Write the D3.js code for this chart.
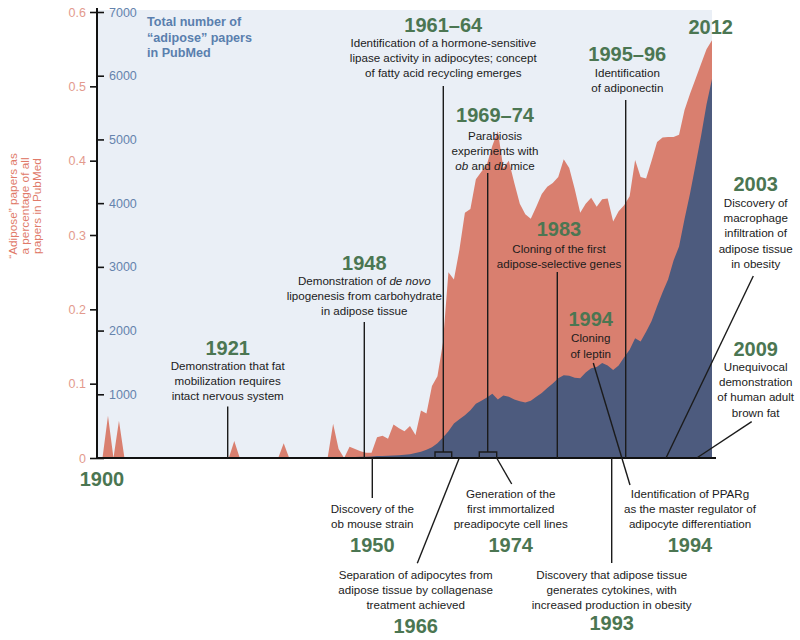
<!DOCTYPE html>
<html><head><meta charset="utf-8">
<script src="https://cdn.jsdelivr.net/npm/d3@7"></script>
<style>
body{margin:0;background:#fff}
svg{display:block}
text{font-family:"Liberation Sans",Arial,Helvetica,sans-serif}
</style>
</head><body>
<svg id="chart" width="800" height="640"></svg>
<script>
// ---------------- DATA ----------------
const years = [
1900,1901,1902,1903,1904,1905,1906,1907,1908,1909,
1910,1911,1912,1913,1914,1915,1916,1917,1918,1919,
1920,1921,1922,1923,1924,1925,1926,1927,1928,1929,
1930,1931,1932,1933,1934,1935,1936,1937,1938,1939,
1940,1941,1942,1943,1944,1945,1946,1947,1948,1949,
1950,1951,1952,1953,1954,1955,1956,1957,1958,1959,
1960,1961,1962,1963,1964,1965,1966,1967,1968,1969,
1970,1971,1972,1973,1974,1975,1976,1977,1978,1979,
1980,1981,1982,1983,1984,1985,1986,1987,1988,1989,
1990,1991,1992,1993,1994,1995,1996,1997,1998,1999,
2000,2001,2002,2003,2004,2005,2006,2007,2008,2009,
2010,2011,2012];

// "Adipose" papers as a percentage of all PubMed papers
const percentValues = [
0,0,0.057,0,0.05,0,0,0,0,0,
0,0,0,0,0,0,0,0,0,0,
0,0,0,0,0,0.023,0,0,0,0,
0,0,0,0,0.02,0,0,0,0,0,
0,0,0,0.046,0.012,0,0.015,0.012,0.009,0.007,
0.007,0.028,0.03,0.026,0.045,0.04,0.036,0.043,0.031,0.064,
0.06,0.097,0.11,0.155,0.25,0.24,0.28,0.33,0.335,0.375,
0.385,0.395,0.42,0.44,0.39,0.40,0.37,0.342,0.328,0.322,
0.338,0.355,0.365,0.37,0.378,0.402,0.39,0.362,0.33,0.342,
0.35,0.338,0.348,0.349,0.318,0.332,0.34,0.352,0.401,0.378,
0.376,0.40,0.425,0.431,0.432,0.432,0.435,0.468,0.49,0.51,
0.53,0.55,0.562];

// Total number of "adipose" papers in PubMed
const countValues = [
0,0,0,0,0,0,0,0,0,0,
0,0,0,0,0,0,0,0,0,0,
0,0,0,0,0,0,0,0,0,0,
0,0,0,0,0,0,0,0,0,0,
0,0,0,0,0,5,10,15,20,20,
25,30,30,35,40,45,50,60,80,100,
130,170,230,320,420,540,610,670,750,850,
900,950,1010,920,980,960,920,890,870,900,
960,1020,1100,1170,1250,1300,1290,1260,1250,1340,
1410,1430,1490,1450,1380,1450,1580,1700,1880,1830,
1980,2150,2380,2600,2800,3100,3320,3750,4150,4600,
5050,5550,5950];

const percentTicks = [0, 0.1, 0.2, 0.3, 0.4, 0.5, 0.6];
const percentTickLabels = ["0", "0.1", "0.2", "0.3", "0.4", "0.5", "0.6"];
const countTicks = [0, 1000, 2000, 3000, 4000, 5000, 6000, 7000];
const countTickLabels = ["", "1000", "2000", "3000", "4000", "5000", "6000", "7000"];

const percentAxisTitle = ["\u201CAdipose\u201D papers as", "a percentage of all", "papers in PubMed"];
const countTitle = ["Total number of", "\u201Cadipose\u201D papers", "in PubMed"];

// events: label + description lines (*...* = italic)
const eventLabels = ["1900","1921","1948","1961\u201364","1969\u201374","1983","1994","1995\u201396","2003","2009","2012",
                     "1950","1966","1974","1994","1993"];
const eventTexts = [
  [],
  ["Demonstration that fat","mobilization requires","intact nervous system"],
  ["Demonstration of *de novo*","lipogenesis from carbohydrate","in adipose tissue"],
  ["Identification of a hormone-sensitive","lipase activity in adipocytes; concept","of fatty acid recycling emerges"],
  ["Parabiosis","experiments with","*ob* and *db* mice"],
  ["Cloning of the first","adipose-selective genes"],
  ["Cloning","of leptin"],
  ["Identification","of adiponectin"],
  ["Discovery of","macrophage","infiltration of","adipose tissue","in obesity"],
  ["Unequivocal","demonstration","of human adult","brown fat"],
  [],
  ["Discovery of the","ob mouse strain"],
  ["Separation of adipocytes from","adipose tissue by collagenase","treatment achieved"],
  ["Generation of the","first immortalized","preadipocyte cell lines"],
  ["Identification of PPARg","as the master regulator of","adipocyte differentiation"],
  ["Discovery that adipose tissue","generates cytokines, with","increased production in obesity"]
];

// ---------------- LAYOUT ----------------
const plotL = 97, plotR = 712, plotT = 12, base = 458;
const colors = {
  bg: "#eaeff6", pct: "#d97f6f", count: "#4d5b7e",
  pctText: "#e39a8d", pctTitle: "#e07a69", countText: "#6583ad", countTitle: "#5a7fae",
  green: "#4b7652", ink: "#1b1b1b"
};
const eventLayout = [
  {cx:102, ly:479, ty:0},
  {cx:227.7, ly:348, ty:365.5},
  {cx:364.3, ly:262.7, ty:280.7},
  {cx:443.3, ly:25, ty:43},
  {cx:495, ly:115, ty:135.7},
  {cx:559, ly:228.3, ty:249},
  {cx:590.7, ly:318.3, ty:338.3},
  {cx:627.3, ly:53.3, ty:73},
  {cx:755.7, ly:183.3, ty:203},
  {cx:755.7, ly:348.3, ty:367},
  {cx:710.7, ly:26.7, ty:0},
  {cx:372.3, ly:545, ty:509},
  {cx:415.7, ly:626, ty:575},
  {cx:510.7, ly:545, ty:494},
  {cx:690, ly:545, ty:494},
  {cx:611.7, ly:623, ty:575}
];
const leaders = [
  [227.7,406.5,227.7,base],
  [364.3,322,364.3,base],
  [443.3,86,443.3,452],
  [487.7,173,487.7,452],
  [557.3,272,557.3,base],
  [593.3,363,630,485],
  [625.7,100,625.7,base],
  [753.3,276,666,base],
  [751.7,421.7,696.7,base],
  [372.3,base,372.3,498],
  [459.3,base,417.3,563.3],
  [496.7,base,511.7,484],
  [611.7,base,611.7,563]
];
const brackets = [[435,451.7],[479.3,496.7]];

// ---------------- DRAW ----------------
const svg = d3.select("#chart");
const x = d3.scaleLinear().domain([1900, 2012]).range([plotL, plotR]);
const yPct = d3.scaleLinear().domain([0, 0.6]).range([base, plotT]);
const yCnt = d3.scaleLinear().domain([0, 7000]).range([base, plotT]);

svg.append("rect").attr("x", x(1900)).attr("y", 10)
  .attr("width", x(2012) - x(1900)).attr("height", base - 10).attr("fill", colors.bg);

const rows = years.map((yr, i) => ({year: yr, p: percentValues[i], c: countValues[i]}));

svg.append("path").datum(rows)
  .attr("fill", colors.pct)
  .attr("d", d3.area().x(d => x(d.year)).y0(base).y1(d => yPct(d.p)));

svg.append("path").datum(rows)
  .attr("fill", colors.count)
  .attr("d", d3.area().x(d => x(d.year)).y0(base).y1(d => yCnt(d.c)));

const axL = svg.append("g").attr("transform", `translate(${plotL},0)`)
  .call(d3.axisLeft(yPct).tickValues(percentTicks).tickSize(7).tickSizeOuter(0).tickPadding(4)
    .tickFormat((d, i) => percentTickLabels[i]));
axL.select(".domain").remove();
axL.selectAll(".tick line").attr("stroke", "#111").attr("stroke-width", 1.6);
axL.selectAll(".tick text").attr("fill", colors.pctText).style("font-size", "12.5px")
  .style("font-family", "'Liberation Sans',Arial,sans-serif");

const axR = svg.append("g").attr("transform", `translate(${plotL},0)`)
  .call(d3.axisRight(yCnt).tickValues(countTicks).tickSize(7).tickSizeOuter(0).tickPadding(5)
    .tickFormat((d, i) => countTickLabels[i]));
axR.select(".domain").remove();
axR.selectAll(".tick line").attr("stroke", "#111").attr("stroke-width", 1.6);
axR.selectAll(".tick text").attr("fill", colors.countText).style("font-size", "12.5px")
  .style("font-family", "'Liberation Sans',Arial,sans-serif");

svg.append("line").attr("x1", plotL).attr("x2", plotL).attr("y1", 8).attr("y2", base + 1)
  .attr("stroke", "#111").attr("stroke-width", 2);
svg.append("line").attr("x1", plotL).attr("x2", x(2012) + 4).attr("y1", base).attr("y2", base)
  .attr("stroke", "#111").attr("stroke-width", 2);

const lt = svg.append("text").attr("transform", "translate(25,206) rotate(-90)")
  .attr("text-anchor", "middle").attr("fill", colors.pctTitle).style("font-size", "11.8px");
percentAxisTitle.forEach((s, i) => lt.append("tspan").attr("x", 0).attr("y", (i - 1) * 11.8).attr("dy", "0.35em").text(s));

const ct = svg.append("text").attr("fill", colors.countTitle).style("font-size", "12.6px").style("font-weight", "bold");
countTitle.forEach((s, i) => ct.append("tspan").attr("x", 147).attr("y", 22 + i * 15.5).attr("dy", "0.35em").text(s));

leaders.forEach(l => svg.append("line").attr("x1", l[0]).attr("y1", l[1]).attr("x2", l[2]).attr("y2", l[3])
  .attr("stroke", colors.ink).attr("stroke-width", 1.4));
brackets.forEach(b => svg.append("path")
  .attr("d", `M${b[0]},${base}V${base - 6}H${b[1]}V${base}`)
  .attr("fill", "none").attr("stroke", colors.ink).attr("stroke-width", 1.4));

function addRich(sel, s) {
  s.split("*").forEach((part, k) => {
    if (!part) return;
    const t = sel.append("tspan").text(part);
    if (k % 2 === 1) t.style("font-style", "italic");
  });
}
eventLabels.forEach((lab, i) => {
  const L = eventLayout[i];
  svg.append("text").attr("x", L.cx).attr("y", L.ly).attr("dy", "0.36em")
    .attr("text-anchor", "middle").attr("fill", colors.green)
    .style("font-size", "20px").style("font-weight", "bold").text(lab);
  eventTexts[i].forEach((line, j) => {
    const t = svg.append("text").attr("x", L.cx).attr("y", L.ty + j * 15.2).attr("dy", "0.35em")
      .attr("text-anchor", "middle").attr("fill", colors.ink).style("font-size", "11.6px");
    addRich(t, line);
  });
});
</script>
</body></html>
